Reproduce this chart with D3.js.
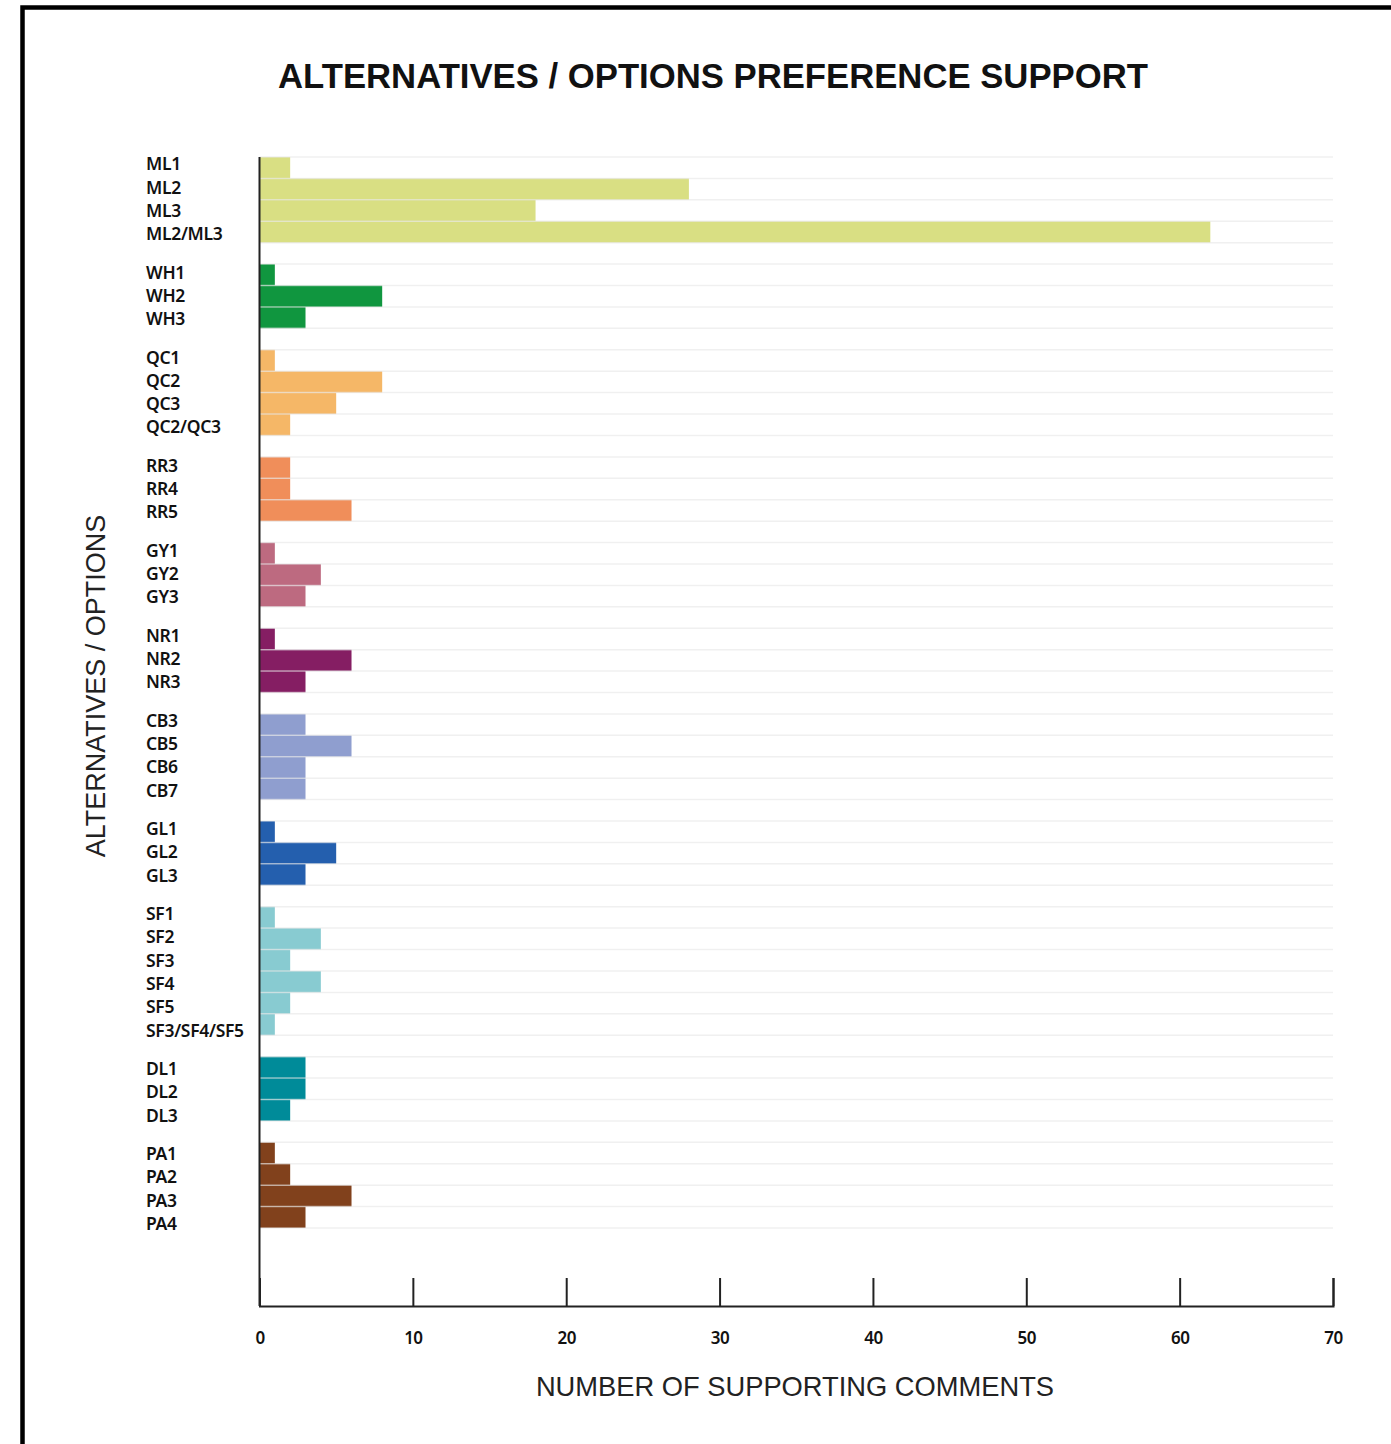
<!DOCTYPE html>
<html>
<head>
<meta charset="utf-8">
<script src="https://cdn.jsdelivr.net/npm/d3@7"></script>
<style>
  body { margin: 0; background: #fff; }
  svg { display: block; }
  .cat-label, .tick text { font-family: "Noto Sans", sans-serif; font-weight: 600; fill: #111; }
</style>
</head>
<body>
<svg id="chart"></svg>
<script>
// options, in drawing order (first two letters = group code)
const options = [
  'ML1', 'ML2', 'ML3', 'ML2/ML3',
  'WH1', 'WH2', 'WH3',
  'QC1', 'QC2', 'QC3', 'QC2/QC3',
  'RR3', 'RR4', 'RR5',
  'GY1', 'GY2', 'GY3',
  'NR1', 'NR2', 'NR3',
  'CB3', 'CB5', 'CB6', 'CB7',
  'GL1', 'GL2', 'GL3',
  'SF1', 'SF2', 'SF3', 'SF4', 'SF5', 'SF3/SF4/SF5',
  'DL1', 'DL2', 'DL3',
  'PA1', 'PA2', 'PA3', 'PA4'
];
const comments = [
  2, 28, 18, 62,
  1, 8, 3,
  1, 8, 5, 2,
  2, 2, 6,
  1, 4, 3,
  1, 6, 3,
  3, 6, 3, 3,
  1, 5, 3,
  1, 4, 2, 4, 2, 1,
  3, 3, 2,
  1, 2, 6, 3
];
const groups = ['ML', 'WH', 'QC', 'RR', 'GY', 'NR', 'CB', 'GL', 'SF', 'DL', 'PA'];
const groupColors = ['#d9df83', '#10963f', '#f5b767', '#f08e5a', '#bd6a80', '#851e63',
                     '#8f9ecf', '#245fae', '#88cbd1', '#008b99', '#81411c'];
const xTicks = [0, 10, 20, 30, 40, 50, 60, 70];

const W = 1391, H = 1444;
const svg = d3.select('#chart').attr('width', W).attr('height', H);

// frame (runs off the right and bottom edges)
svg.append('rect')
  .attr('x', 22.5).attr('y', 7.5)
  .attr('width', W).attr('height', H)
  .attr('fill', 'none').attr('stroke', '#000').attr('stroke-width', 4.5);

// one empty slot between groups; labels use their own, slightly looser spacing
const labelGap = 0.65;
const rows = options.map((o, i) => {
  const gi = groups.indexOf(o.slice(0, 2));
  return { name: o, value: comments[i], gi: gi, slot: i + gi, li: i + gi * labelGap };
});
const nSlots = options.length + groups.length - 1;

const x = d3.scaleLinear().domain([0, 70]).range([259.5, 1333]);
const y = d3.scaleLinear().domain([0, nSlots]).range([157, 1228]);
const labelY = d3.scaleLinear()
  .domain([0, options.length - 1 + (groups.length - 1) * labelGap])
  .range([164, 1223.5]);
const color = d3.scaleOrdinal().domain(groups).range(groupColors);

// bars
svg.append('g').selectAll('rect')
  .data(rows)
  .join('rect')
  .attr('x', x(0))
  .attr('y', d => y(d.slot))
  .attr('width', d => x(d.value) - x(0))
  .attr('height', d => y(d.slot + 1) - y(d.slot))
  .attr('fill', d => color(groups[d.gi]));

// light row lines, drawn over the bars
svg.append('g').selectAll('line')
  .data(d3.range(nSlots + 1))
  .join('line')
  .attr('x1', x(0)).attr('x2', x(70))
  .attr('y1', d => y(d)).attr('y2', d => y(d))
  .attr('stroke', '#e6e6e6').attr('stroke-opacity', 0.6).attr('stroke-width', 1.5);

// category labels
svg.append('g').selectAll('text')
  .data(rows)
  .join('text')
  .attr('class', 'cat-label')
  .attr('x', 146)
  .attr('y', d => labelY(d.li))
  .attr('dy', '0.36em')
  .attr('font-size', 17.5)
  .attr('letter-spacing', -0.3)
  .text(d => d.name);

// x axis with ticks pointing up
const xAxis = d3.axisBottom(x).tickValues(xTicks).tickSize(-28).tickFormat(d3.format('d'));
const xAxisG = svg.append('g')
  .attr('transform', 'translate(0,1306)')
  .call(xAxis);
xAxisG.select('.domain').attr('stroke', '#222').attr('stroke-width', 2);
xAxisG.selectAll('.tick line').attr('stroke', '#222').attr('stroke-width', 2);
xAxisG.selectAll('.tick text')
  .attr('y', 32).attr('dy', '0.36em')
  .attr('font-size', 17).attr('letter-spacing', -0.5);

// y axis line
svg.append('line')
  .attr('x1', x(0)).attr('x2', x(0))
  .attr('y1', 157).attr('y2', 1306)
  .attr('stroke', '#222').attr('stroke-width', 2);

// titles
svg.append('text')
  .attr('x', 713).attr('y', 88)
  .attr('text-anchor', 'middle')
  .attr('font-family', '"Liberation Sans", Arial, sans-serif')
  .attr('font-weight', 'bold').attr('font-size', 34.7)
  .attr('fill', '#111')
  .text('ALTERNATIVES / OPTIONS PREFERENCE SUPPORT');

svg.append('text')
  .attr('x', 795).attr('y', 1396)
  .attr('text-anchor', 'middle')
  .attr('font-family', '"Liberation Sans", Arial, sans-serif')
  .attr('font-size', 27.3).attr('fill', '#222')
  .text('NUMBER OF SUPPORTING COMMENTS');

svg.append('text')
  .attr('transform', 'rotate(-90)')
  .attr('x', -686).attr('y', 105)
  .attr('text-anchor', 'middle')
  .attr('font-family', '"Liberation Sans", Arial, sans-serif')
  .attr('font-size', 27).attr('fill', '#222')
  .text('ALTERNATIVES / OPTIONS');
</script>
</body>
</html>
